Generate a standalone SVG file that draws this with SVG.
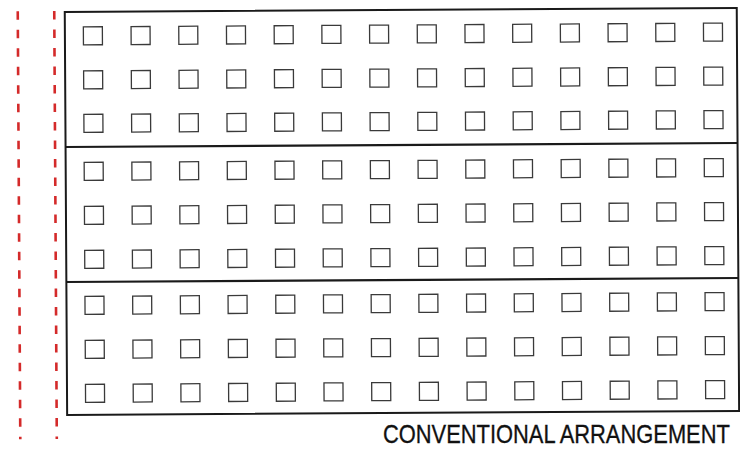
<svg xmlns="http://www.w3.org/2000/svg" width="740" height="450" viewBox="0 0 740 450">
<defs>
<style>
.frame{fill:none;stroke:#1a1a1a;stroke-width:2}
.div{stroke:#1a1a1a;stroke-width:2.2}
.sq{fill:none;stroke:#3a3a3a;stroke-width:1.3}
.red{stroke:#d42a2a;stroke-width:2.6;stroke-dasharray:8.5 10}
.lbl{font-family:"Liberation Sans",Arial,sans-serif;font-size:25px;fill:#111;stroke:#111;stroke-width:0.3}
</style>
<g id="row">
<rect class="sq" x="0" y="0" width="19" height="18"/>
<rect class="sq" x="47.7" y="0" width="19" height="18"/>
<rect class="sq" x="95.4" y="0" width="19" height="18"/>
<rect class="sq" x="143.1" y="0" width="19" height="18"/>
<rect class="sq" x="190.8" y="0" width="19" height="18"/>
<rect class="sq" x="238.5" y="0" width="19" height="18"/>
<rect class="sq" x="286.2" y="0" width="19" height="18"/>
<rect class="sq" x="333.9" y="0" width="19" height="18"/>
<rect class="sq" x="381.6" y="0" width="19" height="18"/>
<rect class="sq" x="429.3" y="0" width="19" height="18"/>
<rect class="sq" x="477" y="0" width="19" height="18"/>
<rect class="sq" x="524.7" y="0" width="19" height="18"/>
<rect class="sq" x="572.4" y="0" width="19" height="18"/>
<rect class="sq" x="620.1" y="0" width="19" height="18"/>
</g>
</defs>
<rect width="740" height="450" fill="#fff"/>
<g transform="rotate(-0.34 400 220)">
<g id="boundaries">
<line class="red" x1="19" y1="9" x2="19" y2="437"/>
<line class="red" x1="55.5" y1="9" x2="55.5" y2="437"/>
</g>
<g id="building">
<rect class="frame" x="66" y="10" width="672" height="403"/>
<line class="div" x1="66" y1="145" x2="738" y2="145"/>
<line class="div" x1="66" y1="280" x2="738" y2="280"/>
</g>
<g id="section1">
<use href="#row" x="84.5" y="25"/>
<use href="#row" x="84.5" y="69"/>
<use href="#row" x="84.5" y="112.5"/>
</g>
<g id="section2">
<use href="#row" x="84.5" y="160.5"/>
<use href="#row" x="84.5" y="204.5"/>
<use href="#row" x="84.5" y="248.5"/>
</g>
<g id="section3">
<use href="#row" x="84.5" y="294.5"/>
<use href="#row" x="84.5" y="338.5"/>
<use href="#row" x="84.5" y="382.5"/>
</g>
</g>
<text class="lbl" transform="translate(383 443) scale(0.846 1)" x="0" y="0" textLength="410" lengthAdjust="spacingAndGlyphs">CONVENTIONAL ARRANGEMENT</text>
</svg>
